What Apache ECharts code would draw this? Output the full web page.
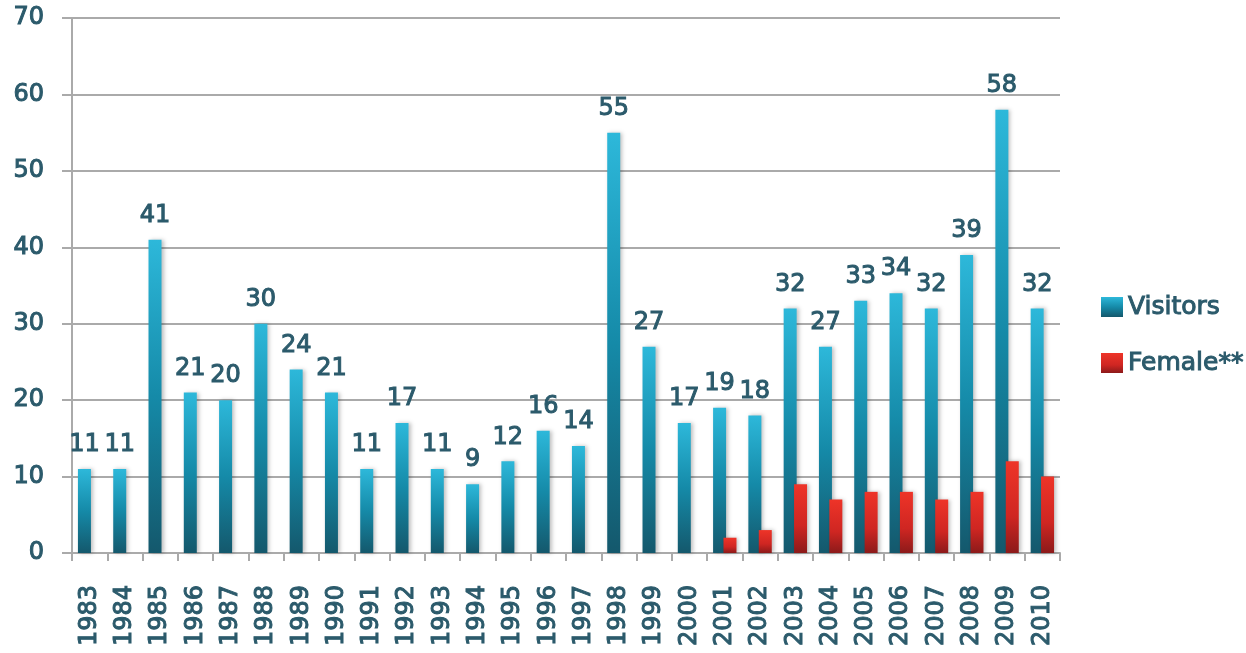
<!DOCTYPE html>
<html>
<head>
<meta charset="utf-8">
<script src="https://cdn.jsdelivr.net/npm/echarts@6/dist/echarts.min.js"></script>
<style>
    html, body { margin: 0; padding: 0; background: #fff; }
    #chart { width: 1246px; height: 653px; }
</style>
</head>
<body>
<div id="chart"></div>
<script>
    // 数据
    var years = ['1983', '1984', '1985', '1986', '1987', '1988', '1989', '1990', '1991', '1992',
        '1993', '1994', '1995', '1996', '1997', '1998', '1999', '2000', '2001', '2002',
        '2003', '2004', '2005', '2006', '2007', '2008', '2009', '2010'];
    var visitors = [11, 11, 41, 21, 20, 30, 24, 21, 11, 17, 11, 9, 12, 16, 14, 55, 27, 17, 19, 18,
        32, 27, 33, 34, 32, 39, 58, 32];
    var female = [0, 0, 0, 0, 0, 0, 0, 0, 0, 0, 0, 0, 0, 0, 0, 0, 0, 0, 2, 3,
        9, 7, 8, 8, 7, 8, 12, 10];

    var textColor = '#2b5a6b';
    var font = '"DejaVu Sans", Verdana, sans-serif';
    // 文字样式(略加粗)
    var txt = {
        color: textColor,
        fontFamily: font,
        fontSize: 24,
        fontWeight: 'normal',
        textBorderColor: textColor,
        textBorderWidth: 1
    };

    var blueGrad = new echarts.graphic.LinearGradient(0, 0, 0, 1, [
        {offset: 0, color: '#2db8da'},
        {offset: 0.5, color: '#158aa8'},
        {offset: 1, color: '#14586c'}
    ]);
    var redGrad = new echarts.graphic.LinearGradient(0, 0, 0, 1, [
        {offset: 0, color: '#ee3428'},
        {offset: 0.6, color: '#cf2622'},
        {offset: 1, color: '#8c1a1a'}
    ]);

    var myChart = echarts.init(document.getElementById('chart'));
    myChart.setOption({
        animation: false,
        textStyle: {fontFamily: font},
        grid: {left: 72, right: 186, top: 18, bottom: 100},
        legend: {
            orient: 'vertical',
            left: 1096,
            top: 289,
            itemWidth: 22,
            itemHeight: 20,
            itemGap: 30,
            icon: 'rect',
            textStyle: Object.assign({}, txt, {fontSize: 25}),
            data: [
                {name: 'Visitors', itemStyle: {color: blueGrad}},
                {name: 'Female**', itemStyle: {color: redGrad}}
            ]
        },
        xAxis: {
            type: 'category',
            data: years,
            axisLine: {lineStyle: {color: '#aaaaaa', width: 2}},
            axisTick: {show: true, length: 8, lineStyle: {color: '#aaaaaa', width: 2}},
            axisLabel: Object.assign({}, txt, {rotate: 90, margin: 32, interval: 0})
        },
        yAxis: {
            type: 'value',
            min: 0,
            max: 70,
            interval: 10,
            axisLine: {show: true, lineStyle: {color: '#aaaaaa', width: 2}},
            axisTick: {show: true, inside: false, length: 10, lineStyle: {color: '#aaaaaa', width: 2}},
            splitLine: {lineStyle: {color: '#aaaaaa', width: 2}},
            axisLabel: Object.assign({}, txt, {margin: 28})
        },
        series: [
            {
                name: 'Visitors',
                type: 'bar',
                data: visitors,
                barWidth: 13,
                barGap: '-20%',
                itemStyle: {
                    color: blueGrad,
                    shadowColor: 'rgba(0,0,0,0.25)',
                    shadowBlur: 4,
                    shadowOffsetX: 2
                },
                label: Object.assign({show: true, position: 'top', distance: 12}, txt)
            },
            {
                name: 'Female**',
                type: 'bar',
                data: female,
                barWidth: 13,
                itemStyle: {
                    color: redGrad,
                    shadowColor: 'rgba(0,0,0,0.25)',
                    shadowBlur: 4,
                    shadowOffsetX: 2
                }
            }
        ]
    });
</script>
</body>
</html>
